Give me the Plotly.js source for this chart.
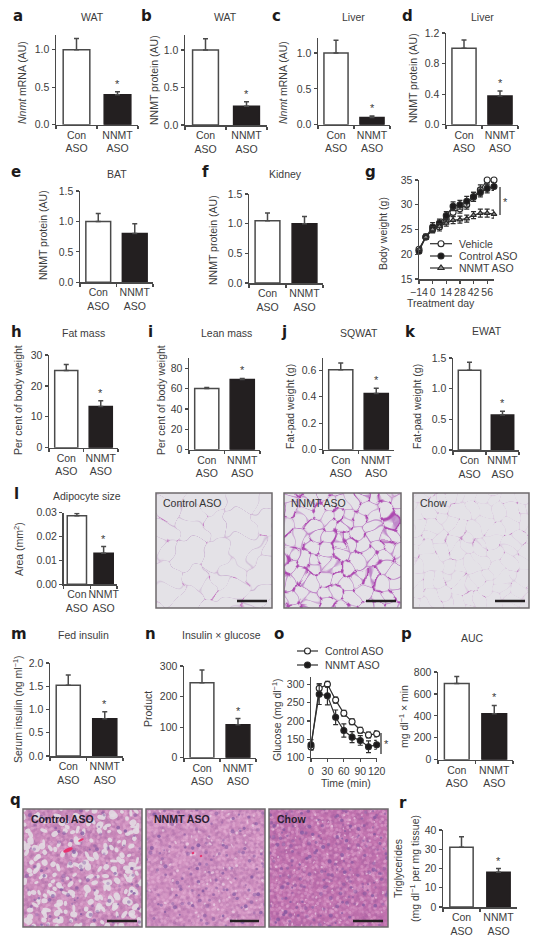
<!DOCTYPE html>
<html><head><meta charset="utf-8">
<script src="https://cdn.plot.ly/plotly-3.0.1.min.js"></script>
<style>html,body{margin:0;padding:0;background:#fff}#c{width:539px;height:940px}</style>
</head><body><div id="c"></div>
<script>
// ---------- data ----------
const barCategories = ['Con<br>ASO', 'NNMT<br>ASO'];
const aValues = [1.0, 0.4],     aErrors = [0.15, 0.04];
const bValues = [1.0, 0.25],    bErrors = [0.15, 0.06];
const cValues = [1.0, 0.1],     cErrors = [0.18, 0.02];
const dValues = [1.0, 0.375],   dErrors = [0.11, 0.065];
const eValues = [1.0, 0.8],     eErrors = [0.13, 0.16];
const fValues = [1.05, 1.0],    fErrors = [0.13, 0.12];
const hValues = [25, 13.3],     hErrors = [1.9, 1.9];
const iValues = [60, 69],       iErrors = [1, 1];
const jValues = [0.605, 0.425], jErrors = [0.05, 0.04];
const kValues = [1.3, 0.57],    kErrors = [0.13, 0.06];
const lValues = [0.0287, 0.013],lErrors = [0.001, 0.0028];
const mValues = [1.52, 0.8],    mErrors = [0.22, 0.15];
const nValues = [245, 108],     nErrors = [42, 20];
const pValues = [695, 420],     pErrors = [65, 75];
const rValues = [31, 18],       rErrors = [5.5, 2];

const gDays = [-14,-7,0,7,14,21,28,35,42,49,56,63];
const gVehicle = [21,23.5,25,25.5,27,28.5,29.2,30,31.6,33,35,35];
const gVehicleErr = [0.4,0.5,0.7,0.8,0.7,0.8,0.9,0.9,0.9,1,1,1.1];
const gControl = [20.6,23.5,25.5,26.3,27.8,29.7,30,30.7,31.6,32.5,33.3,33.7];
const gControlErr = [0.4,0.5,0.9,0.8,0.8,0.9,0.9,1,0.9,0.9,0.9,0.8];
const gNnmt = [21,23.5,25,25.6,26.3,26.9,27,27.2,27.9,28.3,28.3,28.1];
const gNnmtErr = [0.4,0.5,0.6,0.6,0.6,0.7,0.7,0.7,0.7,0.8,0.8,0.8];
const gTicks = [-14,0,14,28,42,56];
const gTickText = ['\u221214','0','14','28','42','56'];

const oTimes = [0,15,30,45,60,75,90,105,120];
const oControl = [129,289,300,257,221,198,175,162,165];
const oControlErr = [8,12,8,8,8,8,8,8,8];
const oNnmt = [135,273,269,210,174,156,147,130,135];
const oNnmtErr = [14,28,25,20,18,15,13,16,12];

// ---------- look ----------
const FONT = '"Liberation Sans", Arial, sans-serif';
const FS = 10.5;
const INK = '#3c3c3c', AX = '#4a4a4a', BLACK = '#231f20';
const W = 539, H = 940;
const px = x => x / W, py = y => 1 - y / H;

const traces = [], layout = {
  width: W, height: H, margin: {l:0,r:0,t:0,b:0,pad:0}, showlegend: false,
  paper_bgcolor: '#fff', plot_bgcolor: 'rgba(0,0,0,0)',
  font: {family: FONT, size: FS, color: INK},
  annotations: [], shapes: [], images: []
};
function text(t, x, y, o) {
  layout.annotations.push(Object.assign({
    text: t, xref: 'paper', yref: 'paper', x: px(x), y: py(y), showarrow: false,
    xanchor: 'center', yanchor: 'middle', font: {family: FONT, size: FS, color: INK}
  }, o || {}));
}
function letter(t, x, y) {
  text('<b>' + t + '</b>', x, y, {xanchor:'left', font:{family:'"DejaVu Sans", sans-serif', size:15, color:'#1c1a1b'}});
}
function ytitle(t, x, y) { text(t, x, y, {textangle:-90}); }
function axes(n, x0, x1, yb, yt) {
  const common = {fixedrange:true, showgrid:false, zeroline:false, showline:true, linecolor:AX, linewidth:1.5,
    ticks:'outside', ticklen:3, tickwidth:1.2, tickcolor:AX, tickangle:0, tickfont:{family:FONT,size:FS,color:INK}};
  layout['xaxis'+n] = Object.assign({}, common, {domain:[px(x0),px(x1)], anchor:'y'+n});
  layout['yaxis'+n] = Object.assign({}, common, {domain:[py(yb),py(yt)], anchor:'x'+n});
}
let idx = 0;
function barPanel(p) {
  const n = ++idx;
  axes(n, p.x0, p.x1, p.yb, p.yt);
  Object.assign(layout['xaxis'+n], {type:'category', categoryorder:'array', categoryarray:barCategories,
    tickson:'boundaries', range:[-0.5,1.5]});
  Object.assign(layout['yaxis'+n], {range:[0,p.yMax], tickmode:'array', tickvals:p.ticks, ticktext:p.labels});
  traces.push({type:'bar', xaxis:'x'+n, yaxis:'y'+n, x:barCategories, y:p.v, width:p.bw,
    marker:{color:['#ffffff',BLACK], line:{color:[AX,BLACK], width:1.5}},
    error_y:{type:'data', symmetric:false, array:p.e, arrayminus:[0,0], color:AX, thickness:1.5, width:2.5},
    hoverinfo:'skip', cliponaxis:false});
  if (p.star !== false) {
    layout.annotations.push({text:'*', xref:'x'+n, yref:'y'+n, x:barCategories[1], y:p.v[1]+p.e[1],
      showarrow:false, yanchor:'bottom', font:{family:FONT,size:11,color:INK}});
  }
  if (p.title) text(p.title, p.tx, p.ty);
  if (p.yt2) ytitle(p.yt2, p.ytx, p.yty);
  letter(p.letter, p.lx, p.ly);
}
const t05 = [0,0.5,1], l05 = ['0.0','0.5','1.0'], t15=[0,0.5,1,1.5], l15=['0.0','0.5','1.0','1.5'];
const nnmtP = 'NNMT protein (AU)', mrna = '<i>Nnmt</i> mRNA (AU)', pct = 'Per cent of body weight', fp = 'Fat-pad weight (g)';

barPanel({letter:'a',lx:11,ly:16,title:'WAT',tx:92,ty:17,yt2:mrna,ytx:22,yty:83,x0:56,x1:138,yb:124.7,yt:35,yMax:1.196,ticks:t05,labels:l05,v:aValues,e:aErrors,bw:0.65});
barPanel({letter:'b',lx:139,ly:16,title:'WAT',tx:225,ty:17,yt2:nnmtP,ytx:154,yty:80,x0:185,x1:267,yb:125,yt:35,yMax:1.2,ticks:t05,labels:l05,v:bValues,e:bErrors,bw:0.63});
barPanel({letter:'c',lx:270,ly:16,title:'Liver',tx:353,ty:17,yt2:mrna,ytx:283,yty:83,x0:318,x1:390,yb:124.7,yt:38,yMax:1.21,ticks:t05,labels:l05,v:cValues,e:cErrors,bw:0.67});
barPanel({letter:'d',lx:400,ly:16,title:'Liver',tx:482,ty:17,yt2:nnmtP,ytx:413,yty:78,x0:446,x1:518,yb:124.7,yt:33,yMax:1.2,ticks:[0,0.4,0.8,1.2],labels:['0.0','0.4','0.8','1.2'],v:dValues,e:dErrors,bw:0.67});
barPanel({letter:'e',lx:9,ly:172,title:'BAT',tx:117,ty:174,yt2:nnmtP,ytx:43,yty:235,x0:80,x1:153,yb:282.3,yt:191,yMax:1.5,ticks:t15,labels:l15,v:eValues,e:eErrors,bw:0.68,star:false});
barPanel({letter:'f',lx:200,ly:172,title:'Kidney',tx:285,ty:174,yt2:nnmtP,ytx:213,yty:240,x0:249,x1:323,yb:283,yt:194,yMax:1.5,ticks:t15,labels:l15,v:fValues,e:fErrors,bw:0.67,star:false});
barPanel({letter:'h',lx:9,ly:332,title:'Fat mass',tx:83,ty:333,yt2:pct,ytx:18,yty:400,x0:49,x1:118,yb:447.7,yt:355,yMax:30,ticks:[0,10,20,30],labels:['0','10','20','30'],v:hValues,e:hErrors,bw:0.67});
barPanel({letter:'i',lx:146,ly:332,title:'Lean mass',tx:226,ty:333,yt2:pct,ytx:161,yty:400,x0:189,x1:260,yb:449.7,yt:358,yMax:90,ticks:[0,20,40,60,80],labels:['0','20','40','60','80'],v:iValues,e:iErrors,bw:0.68});
barPanel({letter:'j',lx:279,ly:332,title:'SQWAT',tx:359,ty:333,yt2:fp,ytx:290,yty:407,x0:323,x1:394,yb:449.7,yt:358,yMax:0.693,ticks:[0,0.2,0.4,0.6],labels:['0.0','0.2','0.4','0.6'],v:jValues,e:jErrors,bw:0.68});
barPanel({letter:'k',lx:403,ly:332,title:'EWAT',tx:487,ty:331,yt2:fp,ytx:417,yty:407,x0:453,x1:519,yb:450,yt:358,yMax:1.5,ticks:t15,labels:l15,v:kValues,e:kErrors,bw:0.68});
barPanel({letter:'l',lx:12,ly:494,title:'Adipocyte size',tx:87,ty:496,yt2:'Area (mm<sup>2</sup>)',ytx:18,yty:549,x0:63.5,x1:117,yb:584.3,yt:512.7,yMax:0.03,ticks:[0,0.01,0.02,0.03],labels:['0.00','0.01','0.02','0.03'],v:lValues,e:lErrors,bw:0.72});
barPanel({letter:'m',lx:9,ly:634,title:'Fed insulin',tx:83,ty:635,yt2:'Serum insulin (ng ml<sup>\u22121</sup>)',ytx:17,yty:709,x0:50,x1:123,yb:756,yt:663,yMax:2,ticks:[0,0.5,1,1.5,2],labels:['0.0','0.5','1.0','1.5','2.0'],v:mValues,e:mErrors,bw:0.66});
barPanel({letter:'n',lx:143,ly:634,title:'Insulin \u00d7 glucose',tx:221,ty:635,yt2:'Product',ytx:148,yty:709,x0:184,x1:256,yb:757.7,yt:666,yMax:300,ticks:[0,100,200,300],labels:['0','100','200','300'],v:nValues,e:nErrors,bw:0.66});
barPanel({letter:'p',lx:399,ly:634,title:'AUC',tx:472,ty:638,yt2:'mg dl<sup>\u22121</sup> \u00d7 min',ytx:403,yty:717,x0:438,x1:513,yb:759.7,yt:672,yMax:800,ticks:[0,200,400,600,800],labels:['0','200','400','600','800'],v:pValues,e:pErrors,bw:0.66});
barPanel({letter:'r',lx:397,ly:803,yt2:'Triglycerides',ytx:398,yty:869,x0:443,x1:517,yb:907,yt:830,yMax:40,ticks:[0,10,20,30,40],labels:['0','10','20','30','40'],v:rValues,e:rErrors,bw:0.63});
ytitle('(mg dl<sup>\u22121</sup> per mg tissue)', 414, 869);

function series(n, x, y, e, sym, fill, size) {
  traces.push({type:'scatter', mode:'lines+markers', xaxis:'x'+n, yaxis:'y'+n, x:x, y:y, cliponaxis:false,
    line:{color:'#2e2e2e', width:1.2},
    marker:{symbol:sym, size:size, color:fill, line:{color:'#2a2a2a', width:1.1}},
    error_y:{type:'data', array:e, color:'#2e2e2e', thickness:1.2, width:2.5}, hoverinfo:'skip'});
}
// panel g
{
  const n = ++idx;
  axes(n, 419, 494, 279, 180);
  Object.assign(layout['xaxis'+n], {range:[-14,63], tickmode:'array', tickvals:gTicks, ticktext:gTickText});
  Object.assign(layout['yaxis'+n], {range:[15,35], tickmode:'array', tickvals:[15,20,25,30,35]});
  series(n, gDays, gVehicle, gVehicleErr, 'circle', '#fff', 6);
  series(n, gDays, gControl, gControlErr, 'circle', '#1c1a1b', 6);
  series(n, gDays, gNnmt, gNnmtErr, 'triangle-up', '#8d8d8d', 5);
  letter('g', 363, 172);
  ytitle('Body weight (g)', 383, 234);
  text('Treatment day', 441, 303);
  text('*', 505, 202, {font:{family:FONT,size:11,color:INK}});
  layout.shapes.push({type:'line',xref:'paper',yref:'paper',x0:px(500),x1:px(500),y0:py(187),y1:py(215),line:{color:'#333',width:1.3}});
}
// panel o
{
  const n = ++idx;
  axes(n, 311, 376.7, 757.7, 677);
  Object.assign(layout['xaxis'+n], {range:[0,120], tickmode:'array', tickvals:[0,30,60,90,120]});
  Object.assign(layout['yaxis'+n], {range:[100,320], tickmode:'array', tickvals:[100,150,200,250,300]});
  series(n, oTimes, oControl, oControlErr, 'circle', '#fff', 6);
  series(n, oTimes, oNnmt, oNnmtErr, 'circle', '#1c1a1b', 6);
  letter('o', 272, 634);
  ytitle('Glucose (mg dl<sup>\u22121</sup>)', 276, 720);
  text('Time (min)', 346, 783);
  text('*', 386, 744, {font:{family:FONT,size:11,color:INK}});
  layout.shapes.push({type:'line',xref:'paper',yref:'paper',x0:px(381),x1:px(381),y0:py(733),y1:py(754),line:{color:'#333',width:1.3}});
}
// legend keys on a page-sized overlay axis
{
  const n = ++idx;
  const hidden = r => ({domain:[0,1], range:r, visible:false, fixedrange:true});
  layout['xaxis'+n] = Object.assign(hidden([0,W]), {anchor:'y'+n});
  layout['yaxis'+n] = Object.assign(hidden([H,0]), {anchor:'x'+n});
  const key = (x0,x1,y,sym,fill,size,label) => {
    traces.push({type:'scatter', mode:'lines', xaxis:'x'+n, yaxis:'y'+n, x:[x0,x1], y:[y,y],
      line:{color:'#2e2e2e',width:1.2}, hoverinfo:'skip'});
    traces.push({type:'scatter', mode:'markers', xaxis:'x'+n, yaxis:'y'+n, x:[(x0+x1)/2], y:[y],
      marker:{symbol:sym,size:size,color:fill,line:{color:'#2a2a2a',width:1.1}}, hoverinfo:'skip'});
    text(label, x1+5, y, {xanchor:'left'});
  };
  key(430,452,243.7,'circle','#fff',6,'Vehicle');
  key(430,452,256,'circle','#1c1a1b',6,'Control ASO');
  key(430,452,268,'triangle-up','#8d8d8d',6,'NNMT ASO');
  key(297,318,651,'circle','#fff',6,'Control ASO');
  key(297,318,665,'circle','#1c1a1b',6,'NNMT ASO');
}

// ---------- micrograph textures (decorative only) ----------
const hash = i => { const s = Math.sin(i*12.9898+4.1)*43758.5453; return s-Math.floor(s); };
function adipose(w, h, pitch, jit, rVar, wall, junction, wallW, juncP, seed, warp) {
  const sites = []; let k = seed;
  for (let y=-pitch; y<h+pitch; y+=pitch) for (let x=-pitch; x<w+pitch; x+=pitch) {
    sites.push([x+hash(k++)*pitch*jit, y+hash(k++)*pitch*jit, hash(k++)*rVar, hash(k++)]);
  }
  const c = document.createElement('canvas'); c.width=w; c.height=h;
  const g = c.getContext('2d'), im = g.createImageData(w,h), bg=[228,226,231];
  for (let y=0;y<h;y++) for (let x=0;x<w;x++) {
    const qx=x+warp*Math.sin(y/7.3+seed)+warp*0.6*Math.sin(y/3.1+x/5.1), qy=y+warp*Math.sin(x/6.1+seed*0.7)+warp*0.6*Math.cos(x/3.7-y/4.3);
    let a=1e9,b=1e9,d=1e9,ai=0,bi=0;
    for (let i=0;i<sites.length;i++){ const s=sites[i];
      const dx=s[0]-qx, dy=s[1]-qy; if (Math.abs(dx)>pitch*3.5||Math.abs(dy)>pitch*3.5) continue;
      const t=Math.sqrt(dx*dx+dy*dy)-s[2];
      if(t<a){d=b;b=a;bi=ai;a=t;ai=i;} else if(t<b){d=b;b=t;bi=i;} else if(t<d){d=t;}
    }
    const strength=0.5+0.5*hash((ai+1)*(bi+1)+seed);
    let wv=Math.max(0,Math.min(1,(wallW-(b-a))/1.2))*strength;
    let jv=Math.max(0,Math.min(1,(wallW*2.6-(d-a))/2.4))*(hash((ai+1)*(bi+1)+seed+5)<juncP?0.95:0.15);
    const o=(y*w+x)*4;
    for(let ch=0;ch<3;ch++){
      let v=bg[ch]+(wall[ch]-bg[ch])*wv;
      v=v+(junction[ch]-v)*jv;
      im.data[o+ch]=v;
    }
    im.data[o+3]=255;
  }
  g.putImageData(im,0,0);
  return soften(c, 0.65);
}
function soften(c, r){
  const o=document.createElement('canvas'); o.width=c.width;o.height=c.height;
  const g=o.getContext('2d'); g.filter='blur('+r+'px)'; g.drawImage(c,0,0);
  return o.toDataURL('image/png');
}
function liver(w,h,base,cfg,seed){
  const c=document.createElement('canvas'); c.width=w;c.height=h; const g=c.getContext('2d');
  g.fillStyle=base; g.fillRect(0,0,w,h); let k=seed;
  for(let y=0;y<h;y+=2.5)for(let x=0;x<w;x+=2.5){
    const t=hash(k++); g.fillStyle= t<0.55?'rgba(240,195,225,'+(0.4*hash(k++))+')':'rgba(140,80,150,'+(0.25*hash(k++))+')';
    g.beginPath(); g.arc(x+hash(k++)*2,y+hash(k++)*2,1.6,0,7); g.fill();
  }
  const sp=cfg.vacPitch;
  for(let y=0;y<h;y+=sp)for(let x=0;x<w;x+=sp){
    if(hash(k++)>cfg.vacP)continue;
    g.fillStyle=cfg.vacColor; g.beginPath();
    g.ellipse(x+hash(k++)*sp,y+hash(k++)*sp,cfg.vacR*(0.5+hash(k++)*0.8),cfg.vacR*(0.4+hash(k++)*0.6),hash(k++)*3,0,7); g.fill();
  }
  for(let y=0;y<h;y+=cfg.nucPitch)for(let x=0;x<w;x+=cfg.nucPitch){
    if(hash(k++)>cfg.nucP)continue;
    g.fillStyle='rgba(125,85,160,'+(0.35+hash(k++)*0.4)+')'; g.beginPath();
    g.arc(x+hash(k++)*cfg.nucPitch,y+hash(k++)*cfg.nucPitch,1.0+hash(k++)*1.1,0,7); g.fill();
  }
  (cfg.red||[]).forEach(r=>{ g.fillStyle='#e8326f'; g.beginPath(); g.ellipse(r[0],r[1],r[2],r[3],-0.4,0,7); g.fill(); });
  return soften(c,0.75);
}
const micrographs = [
  {x:156,y:493,w:116,h:115,label:'Control ASO',bold:false,src:()=>adipose(116,115,23,1.0,7,[205,185,212],[198,125,195],1.2,0.18,11,3),bar:[237,267,601]},
  {x:284,y:493,w:117,h:115,label:'NNMT ASO',bold:false,src:()=>adipose(117,115,12,1.0,2,[190,135,200],[172,70,175],1.5,0.5,2000,1.5),bar:[366,396,601]},
  {x:413,y:493,w:116,h:115,label:'Chow',bold:false,src:()=>adipose(116,115,13,1.0,3,[218,198,222],[190,120,190],0.9,0.2,7000,2),bar:[495,525,601]},
  {x:23,y:809,w:119,h:118,label:'Control ASO',bold:true,src:()=>liver(119,118,'#cb8bbb',{vacPitch:7,vacP:0.72,vacColor:'rgba(226,218,226,0.9)',vacR:3.4,nucPitch:10,nucP:0.6,red:[[45,41,5,1.8],[58,31,3,1.2]]},20000),bar:[107,137,921]},
  {x:146,y:809,w:119,h:118,label:'NNMT ASO',bold:true,src:()=>liver(119,118,'#cf8fbf',{vacPitch:8,vacP:0.35,vacColor:'rgba(235,212,230,0.7)',vacR:1.5,nucPitch:8,nucP:0.55,red:[[47,44,1.4,1.1],[55,47,1.3,1.1]]},40000),bar:[230,259,921]},
  {x:269,y:809,w:119,h:118,label:'Chow',bold:true,src:()=>liver(119,118,'#c172ae',{vacPitch:7,vacP:0.35,vacColor:'rgba(238,212,232,0.65)',vacR:1.2,nucPitch:7,nucP:0.65},60000),bar:[353,383,921]}
];
micrographs.forEach(m=>{
  layout.images.push({source:m.src(), xref:'paper', yref:'paper', x:px(m.x), y:py(m.y), sizex:m.w/W, sizey:m.h/H,
    xanchor:'left', yanchor:'top', sizing:'stretch', layer:'above'});
  layout.shapes.push({type:'rect',xref:'paper',yref:'paper',x0:px(m.x),x1:px(m.x+m.w),y0:py(m.y),y1:py(m.y+m.h),
    line:{color:'#6e6a6c',width:1.5},fillcolor:'rgba(0,0,0,0)'});
  layout.shapes.push({type:'line',xref:'paper',yref:'paper',x0:px(m.bar[0]),x1:px(m.bar[1]),y0:py(m.bar[2]),y1:py(m.bar[2]),
    line:{color:'#231f20',width:2.5}});
  text(m.bold?'<b>'+m.label+'</b>':m.label, m.x+(m.bold?6:5), m.y+10, {xanchor:'left',
    font:{family:FONT,size:10.5,color:m.bold?'#2a2030':'#333'}});
});
letter('q', 8, 800);

Plotly.newPlot('c', traces, layout, {displayModeBar:false, staticPlot:true});
</script>
</body></html>
